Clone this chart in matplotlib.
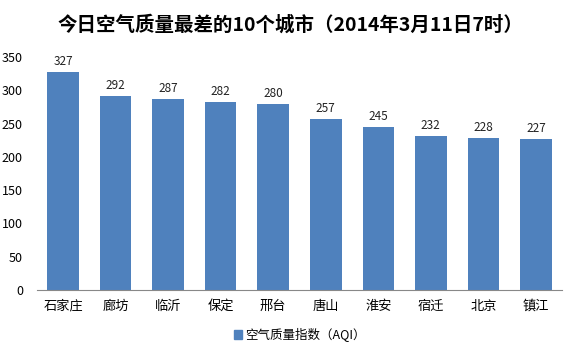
import matplotlib
matplotlib.use("Agg")
import matplotlib.pyplot as plt
from matplotlib.patches import Patch

plt.rcParams['font.family'] = ['Noto Sans CJK SC', 'DejaVu Sans']

cities = ["石家庄", "廊坊", "临沂", "保定", "邢台", "唐山", "淮安", "宿迁", "北京", "镇江"]
aqi = [327, 292, 287, 282, 280, 257, 245, 232, 228, 227]
yticks = [0, 50, 100, 150, 200, 250, 300, 350]
title = "今日空气质量最差的10个城市（2014年3月11日7时）"
legend_label = "空气质量指数（AQI）"
color = "#4F81BD"

fig = plt.figure(figsize=(5.76, 3.54), dpi=100)
ax = fig.add_axes([0.064, 0.181, 0.912, 0.658])
x = list(range(len(cities)))
bars = ax.bar(x, aqi, width=0.6, color=color)
for xi, v in zip(x, aqi):
    ax.text(xi, v + 6, str(v), ha='center', va='bottom', fontsize=8.5, color='#222222')
ax.set_xlim(-0.5, len(cities) - 0.5)
ax.set_ylim(0, 350)
ax.set_yticks(yticks)
ax.set_xticks(x)
ax.set_xticklabels(cities, fontsize=9.5)
ax.tick_params(axis='y', length=0, labelsize=9, pad=10)
ax.tick_params(axis='x', length=0, pad=7)
for s in ['top', 'right', 'left']:
    ax.spines[s].set_visible(False)
ax.spines['bottom'].set_color('#888888')
fig.text(0.505, 0.93, title, ha='center', va='center', fontsize=14, fontweight='bold')
fig.legend(handles=[Patch(color=color)], labels=[legend_label], loc='center',
           bbox_to_anchor=(0.52, 0.055), frameon=False, fontsize=9,
           handlelength=0.7, handleheight=0.7, handletextpad=0.2)
fig.savefig("out.png", dpi=100)
